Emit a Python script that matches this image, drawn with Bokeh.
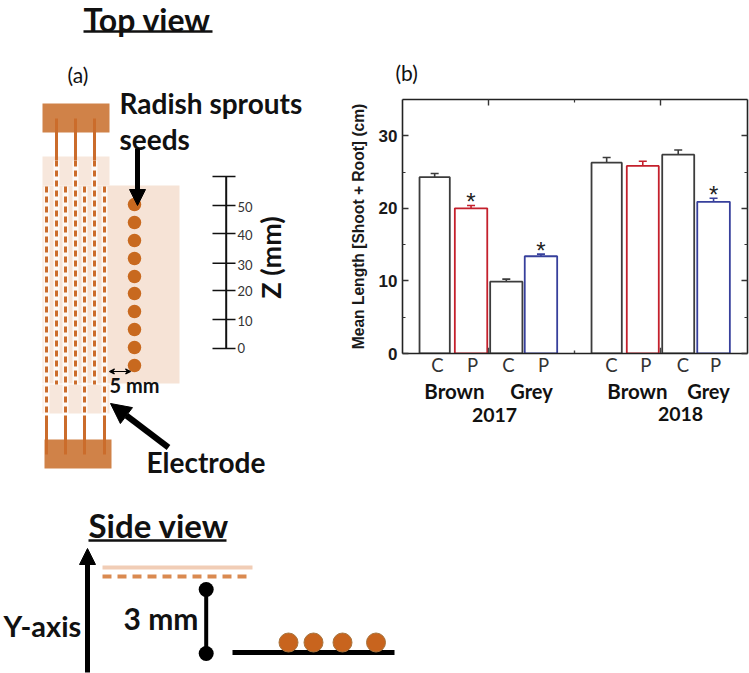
from bokeh.plotting import figure
from bokeh.layouts import column, row
from bokeh.models import (Range1d, LinearAxis, FixedTicker, Whisker, TeeHead,
                          ColumnDataSource, Arrow, NormalHead, VeeHead)
from bokeh.core.properties import value
from bokeh.embed import file_html
from bokeh.resources import INLINE
import math

# ---- chart data
bar_groups = ["C", "P", "C", "P", "C", "P", "C", "P"]
mean_length = [24.3, 20.0, 9.9, 13.4, 26.3, 25.85, 27.4, 20.9]
err_top = [24.8, 20.4, 10.25, 13.7, 27.0, 26.5, 28.05, 21.4]
bar_kind = ["control", "brown", "control", "grey", "control", "brown", "control", "grey"]
starred = [False, True, False, True, False, False, False, True]
y_ticks = [0, 10, 20, 30]
y_minor = [5, 15, 25]
z_ticks = [0, 10, 20, 30, 40, 50]

bar_x = [0.374, 0.797, 1.207, 1.61, 2.374, 2.794, 3.206, 3.617]
bar_w = [0.352, 0.377, 0.375, 0.377, 0.352, 0.372, 0.372, 0.379]
label_x = [0.407, 0.814, 1.233, 1.64, 2.43, 2.83, 3.26, 3.64]
KIND_COLOR = {"control": "#3c3c3c", "brown": "#c4202c", "grey": "#37409c"}

CAL = "Lato"
ARIAL = "Liberation Sans"
BOX = "#d08248"
WIRE = "#cb6c2b"
PALE = "#f6e3d6"
PALE2 = "#f7e7dc"
SEED = "#c8691f"

W, H = 749, 673
SPLIT_X, SPLIT_Y = 345, 490
BAR_TOP, BAR_BOTTOM = 90, 378


def canvas(x0, x1, y0, y1):
    f = figure(width=x1 - x0, height=y1 - y0, x_range=Range1d(x0, x1), y_range=Range1d(y1, y0),
               output_backend="svg", toolbar_location=None, min_border=0)
    f.axis.visible = False
    f.grid.visible = False
    f.outline_line_color = None
    return f


def txt(f, x, y, s, size, bold=True, font=CAL, color="#111111", align="left", angle=0.0):
    f.text([x], [y], text=[s], text_font=value(font), text_font_size=f"{size}px",
           text_font_style="bold" if bold else "normal", text_color=color,
           text_align=align, text_baseline="middle", angle=angle)


def arrow(f, x0, y0, x1, y1, lw, head):
    f.add_layout(Arrow(x_start=x0, y_start=y0, x_end=x1, y_end=y1, line_width=lw, line_color="black",
                       end=NormalHead(size=head, fill_color="black", line_color="black", line_width=1)))


# ---- (a) top view
a = canvas(0, SPLIT_X, 0, SPLIT_Y)
txt(a, 83, 19, "Top view", 32)
a.line([83, 212], [31, 31], line_color="#111111", line_width=2.5)
txt(a, 67, 74, "(a)", 21, bold=False)

a.quad(left=[42, 42, 42], right=[179, 109, 109], top=[185, 156, 384], bottom=[383, 185, 413],
       fill_color=[PALE, PALE2, PALE2], line_color=None)
a.quad(left=[42, 44], right=[109, 111], top=[103, 439], bottom=[132, 468], fill_color=BOX, line_color=None)

for x in (56, 75, 94):
    a.line([x, x], [118, 160], line_color=WIRE, line_width=3)
    a.line([x, x], [160, 384], line_color="white", line_width=6, line_alpha=0.8)
    a.line([x, x], [160, 384], line_color=WIRE, line_width=3, line_dash="6 4")
for x in (46, 65, 84, 104):
    a.line([x, x], [186, 415], line_color="white", line_width=6, line_alpha=0.8)
    a.line([x, x], [186, 415], line_color=WIRE, line_width=3, line_dash="6 4")
    a.line([x, x], [415, 454], line_color=WIRE, line_width=3)

seed_y = [204, 222, 240, 258, 276, 293, 311, 329, 347, 365]
a.scatter([134] * len(seed_y), seed_y, size=13.5, marker="circle", fill_color=SEED, line_color=None)

txt(a, 119, 102, "Radish sprouts", 28)
txt(a, 119, 138, "seeds", 28)
arrow(a, 137, 148, 137, 205, 5, 16)
arrow(a, 168, 447, 110, 403, 6, 20)
txt(a, 146, 461, "Electrode", 28)

a.add_layout(Arrow(x_start=109, y_start=371, x_end=130, y_end=371, line_width=1.2, line_color="black",
                   start=VeeHead(size=5, line_color="black", line_width=1.2),
                   end=VeeHead(size=5, line_color="black", line_width=1.2)))
txt(a, 109, 384, "5 mm", 20)

z_px = [348, 319, 290, 262.7, 233, 205]
z_lab = [347, 320, 290, 264, 234.5, 206.5]
a.line([225.7, 225.7], [176, 348], line_color="#111111", line_width=2)
a.line([212, 235], [176, 176], line_color="#111111", line_width=1.6)
for z, yp, yl in zip(z_ticks, z_px, z_lab):
    a.line([212, 235], [yp, yp], line_color="#111111", line_width=1.6)
    txt(a, 237, yl, str(z), 13, bold=False, color="#333333")
txt(a, 270, 257, "Z (mm)", 27, align="center", angle=math.pi / 2)

# ---- (b) bars
x0_px, x1_px, y0_px, y1_px = 402, 747, 353, 99
b = figure(width=W - SPLIT_X, height=BAR_BOTTOM - BAR_TOP, x_range=Range1d(0, (x1_px - x0_px) / 86),
           y_range=Range1d(0, 35), output_backend="svg", toolbar_location=None,
           min_border_left=x0_px - SPLIT_X, min_border_right=W - x1_px, min_border_top=y1_px - BAR_TOP,
           min_border_bottom=BAR_BOTTOM - y0_px, x_axis_location=None, y_axis_location=None)
b.grid.visible = False
b.outline_line_color = None
INK = "#222222"


def style_axis(ax, major, minor):
    ax.ticker = FixedTicker(ticks=major, minor_ticks=minor)
    ax.axis_line_color = INK
    ax.axis_line_width = 1.6
    ax.major_tick_line_color = "#333333"
    ax.minor_tick_line_color = "#333333"
    ax.major_tick_line_width = 1.4
    ax.minor_tick_line_width = 1.2
    ax.major_tick_in = 6
    ax.major_tick_out = 0
    ax.minor_tick_in = 3
    ax.minor_tick_out = 0


left = LinearAxis()
style_axis(left, y_ticks, y_minor)
left.major_label_text_font = ARIAL
left.major_label_text_font_style = "bold"
left.major_label_text_font_size = "17px"
left.major_label_text_color = "#1a1a1a"
left.major_label_standoff = 5
left.axis_label = "Mean Length [Shoot + Root] (cm)"
left.axis_label_text_font = ARIAL
left.axis_label_text_font_style = "bold"
left.axis_label_text_font_size = "15.6px"
left.axis_label_text_color = "#1a1a1a"
left.axis_label_standoff = 9
b.add_layout(left, "left")

right = LinearAxis()
style_axis(right, y_ticks, y_minor)
right.major_label_overrides = {t: "" for t in y_ticks}
b.add_layout(right, "right")

above = LinearAxis()
style_axis(above, [1, 3], [2])
above.major_label_overrides = {1: "", 3: ""}
above.major_label_standoff = 0
b.add_layout(above, "above")

# the bottom axis carries the C / P labels under the bars; its own ticks would sit at each label
cp_axis = LinearAxis(ticker=FixedTicker(ticks=label_x),
                     major_label_overrides=dict(zip(label_x, bar_groups)))
cp_axis.axis_line_color = INK
cp_axis.axis_line_width = 1.6
cp_axis.major_tick_line_color = None
cp_axis.minor_tick_line_color = None
cp_axis.major_tick_in = 0
cp_axis.major_tick_out = 0
cp_axis.major_label_standoff = 0
cp_axis.major_label_text_font = CAL
cp_axis.major_label_text_font_size = "18.5px"
cp_axis.major_label_text_color = "#333333"
b.add_layout(cp_axis, "below")

for kind, color in KIND_COLOR.items():
    idx = [i for i, k in enumerate(bar_kind) if k == kind]
    src = ColumnDataSource(dict(
        x=[bar_x[i] for i in idx], w=[bar_w[i] for i in idx],
        top=[mean_length[i] for i in idx], up=[err_top[i] for i in idx]))
    b.vbar(x="x", width="w", top="top", bottom=0, source=src, fill_color="white",
           line_color=color, line_width=1.8)
    b.add_layout(Whisker(base="x", upper="up", lower="top", source=src, line_color=color, line_width=1.6,
                         upper_head=TeeHead(size=8, line_color=color, line_width=1.6), lower_head=None))

# inward ticks of the bottom axis
b.segment([1, 2, 3], [0, 0, 0], [1, 2, 3], [0.8, 0.4, 0.8], line_color="#444444", line_width=1.4)

star_x = [x for x, s in zip(bar_x, starred) if s]
star_y = [t for t, s in zip(err_top, starred) if s]
b.text(star_x, star_y, text=["*"] * len(star_x), text_font=value(ARIAL), text_font_size="24px",
       text_color="#222222", text_align="center", text_baseline="middle", y_offset=-4)

# ---- (b) texts above and below the plot
top_b = canvas(SPLIT_X, W, 0, BAR_TOP)
txt(top_b, 395, 72, "(b)", 21, bold=False)

low_b = canvas(SPLIT_X, W, BAR_BOTTOM, SPLIT_Y)
txt(low_b, 454, 390.5, "Brown", 20.5, align="center")
txt(low_b, 531, 390, "Grey", 20, align="center")
txt(low_b, 494, 414, "2017", 19.5, align="center")
txt(low_b, 637, 390.5, "Brown", 20.5, align="center")
txt(low_b, 708, 390, "Grey", 20, align="center")
txt(low_b, 680, 413, "2018", 19.5, align="center")

# ---- side view
s = canvas(0, W, SPLIT_Y, H)
txt(s, 88, 524, "Side view", 33)
s.line([88, 226], [540, 540], line_color="#111111", line_width=2.5)
arrow(s, 87, 672, 87, 548, 5, 16)
txt(s, 3, 625, "Y-axis", 29)
s.line([102, 252], [567, 567], line_color="#f1cdb6", line_width=4)
s.line([102, 252], [576, 576], line_color="#da8a50", line_width=4, line_dash="9 6")
s.line([205.7, 205.7], [589, 653], line_color="black", line_width=4)
s.scatter([205.7, 205.7], [589, 653], size=15, marker="circle", fill_color="black", line_color=None)
txt(s, 123, 617, "3 mm", 30)
s.line([232, 394], [652, 652], line_color="black", line_width=5)
s.scatter([288, 313, 342, 375.5], [642] * 4, size=19, marker="circle", fill_color="#c8641e", line_color="#a8753f",
          line_width=1)

right_col = column(column(top_b), column(b), column(low_b), spacing=0)
page = column(row(column(a), right_col, spacing=0), column(s), spacing=0,
              styles={"position": "absolute", "left": "0px", "top": "0px"})
open("out.html", "w").write(file_html(page, INLINE))
